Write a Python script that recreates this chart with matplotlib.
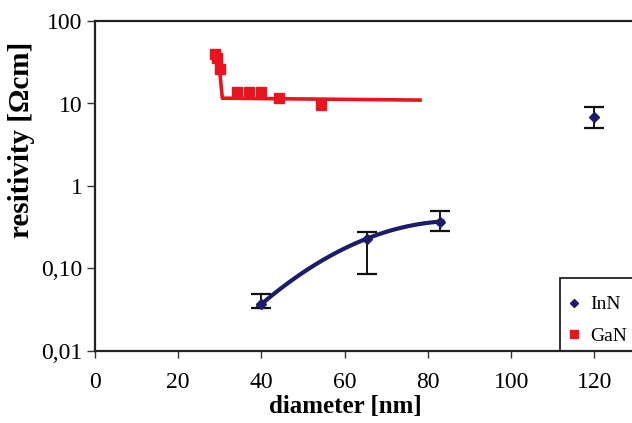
import matplotlib
matplotlib.use("Agg")
import matplotlib.pyplot as plt
import numpy as np
from matplotlib.patches import Rectangle

# InN nanowires: diameter [nm], resistivity [Ohm cm], error bar ends
inn_d = [40.0, 65.3, 83.0, 120.0]
inn_rho = [0.037, 0.23, 0.37, 6.8]
inn_hi = [0.049, 0.28, 0.50, 9.1]
inn_lo = [0.033, 0.085, 0.285, 5.05]

# GaN nanowires
gan_d = [28.8, 29.4, 30.0, 34.1, 37.1, 39.8, 44.2, 54.2]
gan_rho = [40.0, 36.0, 26.0, 13.7, 13.9, 13.9, 11.8, 9.6]

# GaN guide line
gan_fit_d = [29.7, 30.6, 78.1]
gan_fit_rho = [33.7, 11.6, 11.0]

y_ticks = [0.01, 0.1, 1, 10, 100]
y_labels = ["0,01", "0,10", "1", "10", "100"]
x_ticks = [0, 20, 40, 60, 80, 100, 120]

navy = "#1c1c6b"
red = "#e8141e"
serif = ["Liberation Serif", "DejaVu Serif"]

plt.rcParams["font.family"] = serif

fig = plt.figure(figsize=(6.32, 4.23), dpi=100)
ax = fig.add_axes([95 / 632, 1 - 351 / 423, 1 - 95 / 632, (351 - 21) / 423])

# trend (quadratic in log space) through the first three InN points
coef = np.polyfit(inn_d[:3], np.log10(inn_rho[:3]), 2)
xs = np.linspace(39.3, 83.5, 100)
ax.plot(xs, 10 ** np.polyval(coef, xs), color=navy, lw=3, zorder=2)

ax.plot(gan_fit_d, gan_fit_rho, color=red, lw=2.6, zorder=2)

inn_rho_arr = np.array(inn_rho)
yerr = [inn_rho_arr - np.array(inn_lo), np.array(inn_hi) - inn_rho_arr]
ax.errorbar(inn_d, inn_rho, yerr=yerr, fmt="none", ecolor="#111111",
            elinewidth=1.4, capsize=7, capthick=1.6, zorder=3)
ax.plot(inn_d, inn_rho, "D", color=navy, ms=5, ls="none", zorder=4, label="InN")
ax.plot(gan_d, gan_rho, "s", color=red, ms=7, ls="none", zorder=4, label="GaN")

ax.set_yscale("log")
ax.set_ylim(0.01, 100)
ax.set_xlim(0, (632 - 94.3) / 4.167)
ax.set_yticks(y_ticks)
ax.set_yticklabels(y_labels)
ax.yaxis.set_minor_locator(matplotlib.ticker.NullLocator())
ax.set_xticks(x_ticks)

ax.tick_params(axis="y", labelsize=17, length=6, width=1, pad=3, color="#333333")
ax.tick_params(axis="x", labelsize=17, length=5, width=1, pad=10, color="#333333")
for s in ["left", "bottom", "top"]:
    ax.spines[s].set_linewidth(1.6)
    ax.spines[s].set_color("#222222")
ax.spines["right"].set_visible(False)

ax.set_xlabel("diameter [nm]", fontsize=18, fontweight="bold")
ax.set_ylabel("resitivity [Ωcm]", fontsize=21, fontweight="bold")
# labels are off-centre in the reference
ax.xaxis.set_label_coords(0.467, -0.133)
ax.yaxis.set_label_coords(-0.112, 0.64)

# legend box sits on the lower right, running off the figure edge
fig.patches.append(Rectangle((560 / 632, 1 - 351 / 423), 0.2, 73 / 423,
                             transform=fig.transFigure, fill=False,
                             edgecolor="#222222", lw=1.3, clip_on=False))
fig.legend(loc="upper left", bbox_to_anchor=(561 / 632, 1 - 290 / 423),
           frameon=False, fontsize=14, handlelength=0.7, handletextpad=0.5,
           labelspacing=0.7, borderaxespad=0, borderpad=0.3, markerscale=0.9)

fig.savefig("out.png", dpi=100)
